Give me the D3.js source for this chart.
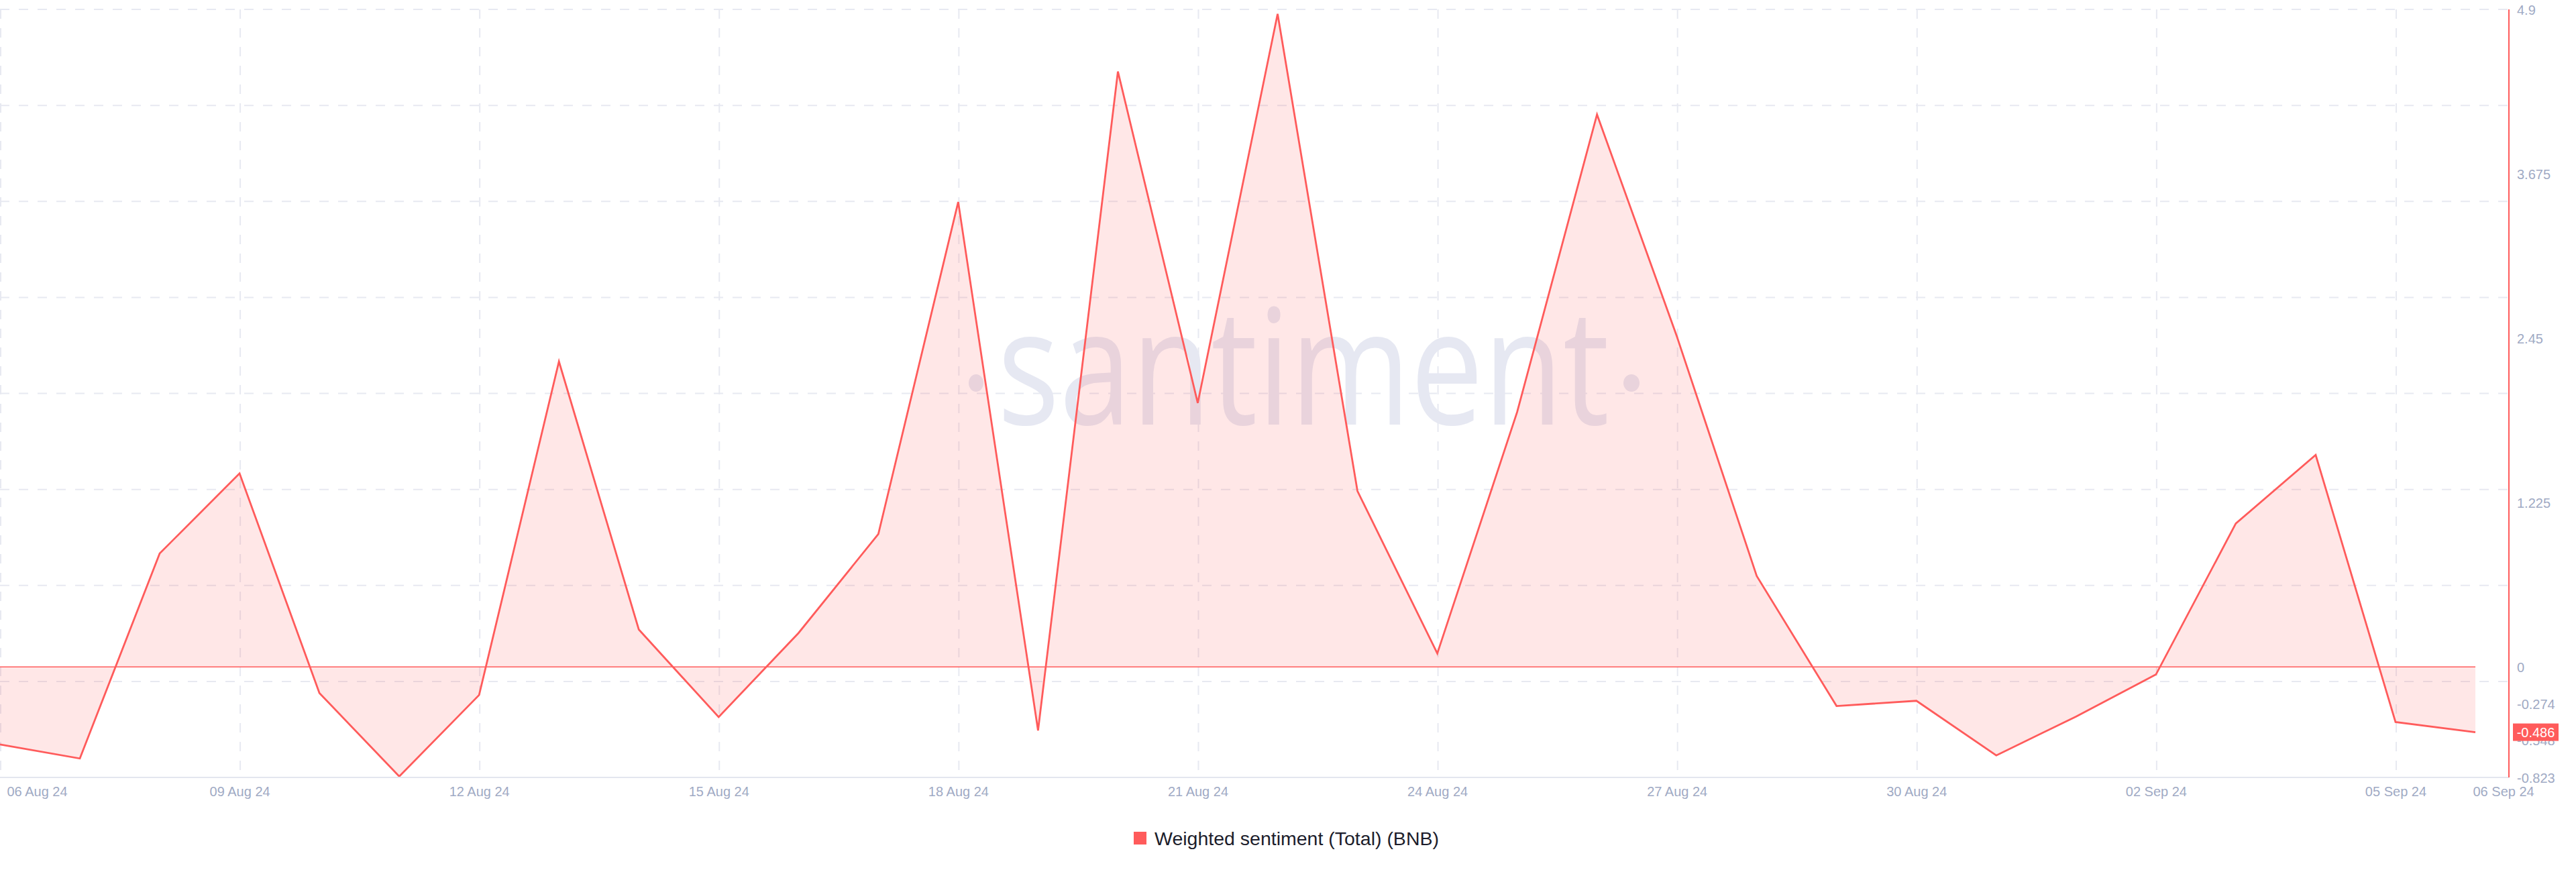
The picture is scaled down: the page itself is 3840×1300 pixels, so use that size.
<!DOCTYPE html>
<html>
<head>
<meta charset="utf-8">
<script src="https://cdn.jsdelivr.net/npm/d3@7"></script>
<style>
  html, body { margin: 0; padding: 0; background: #ffffff; }
  svg { display: block; }
</style>
</head>
<body>
<svg id="chart" width="3840" height="1300"></svg>
<script>
// ---------- DATA ----------
const dates = [
  "2024-08-06","2024-08-07","2024-08-08","2024-08-09","2024-08-10","2024-08-11","2024-08-12","2024-08-13",
  "2024-08-14","2024-08-15","2024-08-16","2024-08-17","2024-08-18","2024-08-19","2024-08-20","2024-08-21",
  "2024-08-22","2024-08-23","2024-08-24","2024-08-25","2024-08-26","2024-08-27","2024-08-28","2024-08-29",
  "2024-08-30","2024-08-31","2024-09-01","2024-09-02","2024-09-03","2024-09-04","2024-09-05","2024-09-06"
];
const sentiment = [
  -0.577, -0.682, 0.846, 1.442, -0.194, -0.815, -0.209, 2.276,
   0.279, -0.373, 0.253, 0.991, 3.465, -0.473, 4.437, 1.967,
   4.866, 1.311, 0.101, 1.900, 4.117, 2.463, 0.678, -0.291,
  -0.252, -0.659, -0.369, -0.056, 1.069, 1.580, -0.410, -0.486
];
const yTickValues = [4.9, 3.675, 2.45, 1.225, 0, -0.274, -0.548, -0.823];
const xTickDates = ["2024-08-06","2024-08-09","2024-08-12","2024-08-15","2024-08-18","2024-08-21",
                    "2024-08-24","2024-08-27","2024-08-30","2024-09-02","2024-09-05","2024-09-06"];
const seriesName = "Weighted sentiment (Total) (BNB)";
const lastValueLabel = "-0.486";
const yMin = -0.823, yMax = 4.9;

// ---------- SETUP ----------
const parse = d3.utcParse("%Y-%m-%d");
const data = dates.map((d, i) => ({ date: parse(d), value: sentiment[i] }));
const svg = d3.select("#chart");

const RED = "#ff5b5b";
const GRID = "#e7e9f1";
const LABEL = "#9faac4";

const plotLeft = 0, plotRight = 3740, plotTop = 14, plotBottom = 1159;
const dataRight = 3690;

const x = d3.scaleUtc()
  .domain([parse(dates[0]), parse(dates[dates.length - 1])])
  .range([plotLeft, dataRight]);
const y = d3.scaleLinear().domain([yMin, yMax]).range([plotBottom, plotTop]);

// ---------- GRID ----------
const gridLevels = d3.range(0, 9).map(i => yMax - i * (yMax - yMin) / 8);
svg.append("g").selectAll("line.h")
  .data(gridLevels.slice(0, 8))
  .join("line")
  .attr("x1", plotLeft).attr("x2", plotRight)
  .attr("y1", d => y(d)).attr("y2", d => y(d))
  .attr("stroke", GRID).attr("stroke-width", 2)
  .attr("stroke-dasharray", "14,14");

const vGrid = xTickDates.slice(0, -1).map(parse);
svg.append("g").selectAll("line.v")
  .data(vGrid)
  .join("line")
  .attr("x1", d => x(d) + 1).attr("x2", d => x(d) + 1)
  .attr("y1", plotTop).attr("y2", plotBottom - 8)
  .attr("stroke", GRID).attr("stroke-width", 2)
  .attr("stroke-dasharray", "14,14");

// ---------- WATERMARK ----------
const wm = svg.append("g").attr("fill", "#e6e8f2");
wm.append("text")
  .attr("x", 1487).attr("y", 633)
  .attr("font-family", "'Open Sans', 'Noto Sans', sans-serif")
  .attr("font-size", 240)
  .attr("textLength", 912)
  .attr("lengthAdjust", "spacingAndGlyphs")
  .text("santiment");
wm.append("ellipse").attr("cx", 1455).attr("cy", 571).attr("rx", 11).attr("ry", 13);
wm.append("ellipse").attr("cx", 2432).attr("cy", 571).attr("rx", 12).attr("ry", 13);

// ---------- AREA + LINE ----------
const area = d3.area()
  .x(d => x(d.date))
  .y0(y(0))
  .y1(d => y(d.value));
svg.append("path")
  .datum(data)
  .attr("d", area)
  .attr("fill", "rgba(255,91,91,0.15)");

svg.append("line")
  .attr("x1", x(data[0].date)).attr("x2", x(data[data.length - 1].date))
  .attr("y1", y(0)).attr("y2", y(0))
  .attr("stroke", RED).attr("stroke-width", 1.5);

const line = d3.line().x(d => x(d.date)).y(d => y(d.value));
svg.append("path")
  .datum(data)
  .attr("d", line)
  .attr("fill", "none")
  .attr("stroke", RED)
  .attr("stroke-width", 2.8)
  .attr("stroke-linejoin", "miter");

// ---------- AXES ----------
svg.append("line")
  .attr("x1", plotLeft).attr("x2", plotRight)
  .attr("y1", plotBottom).attr("y2", plotBottom)
  .attr("stroke", "#e3e6ef").attr("stroke-width", 2);

svg.append("line")
  .attr("x1", plotRight).attr("x2", plotRight)
  .attr("y1", plotTop).attr("y2", plotBottom)
  .attr("stroke", RED).attr("stroke-width", 2);

const yAxis = d3.axisRight(y).tickValues(yTickValues).tickSize(0).tickPadding(12)
  .tickFormat(d => String(d));
const yg = svg.append("g").attr("transform", `translate(${plotRight},0)`).call(yAxis);
yg.select(".domain").remove();
yg.selectAll("text")
  .attr("fill", LABEL)
  .attr("font-family", "'Liberation Sans', Arial, Helvetica, sans-serif")
  .attr("font-size", 20)
  .attr("dy", "0.35em");

const fmt = d3.utcFormat("%d %b %y");
const xAxis = d3.axisBottom(x).tickValues(xTickDates.map(parse)).tickSize(0).tickPadding(0)
  .tickFormat(fmt);
const xg = svg.append("g").attr("transform", `translate(0,${plotBottom})`).call(xAxis);
xg.select(".domain").remove();
xg.selectAll("text")
  .attr("fill", LABEL)
  .attr("font-family", "'Liberation Sans', Arial, Helvetica, sans-serif")
  .attr("font-size", 20)
  .attr("y", 28)
  .attr("dy", 0);
const xTexts = xg.selectAll("text").nodes();
d3.select(xTexts[0]).attr("text-anchor", "start").attr("x", 10);
d3.select(xTexts[xTexts.length - 1]).attr("text-anchor", "start").attr("x", -4);

// ---------- LAST VALUE LABEL ----------
const lastY = y(sentiment[sentiment.length - 1]);
svg.append("rect")
  .attr("x", plotRight + 6).attr("y", lastY - 13)
  .attr("width", 68).attr("height", 26)
  .attr("fill", RED);
svg.append("text")
  .attr("x", plotRight + 40).attr("y", lastY)
  .attr("dy", "0.36em")
  .attr("text-anchor", "middle")
  .attr("fill", "#ffffff")
  .attr("font-family", "'Liberation Sans', Arial, Helvetica, sans-serif")
  .attr("font-size", 20)
  .text(lastValueLabel);

// ---------- LEGEND ----------
const lg = svg.append("g").attr("transform", "translate(1690,1250)");
lg.append("rect").attr("x", 0).attr("y", -10).attr("width", 19).attr("height", 19).attr("fill", RED);
lg.append("text")
  .attr("x", 31).attr("y", 0).attr("dy", "0.35em")
  .attr("fill", "#1c1d2b")
  .attr("font-family", "'Liberation Sans', Arial, Helvetica, sans-serif")
  .attr("font-size", 28.5)
  .text(seriesName);
</script>
</body>
</html>
